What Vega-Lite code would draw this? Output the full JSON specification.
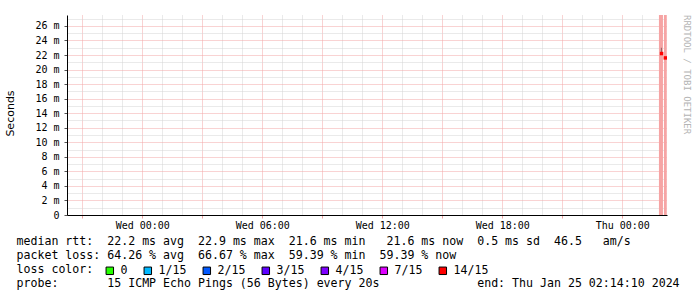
{
  "$schema": "https://vega.github.io/schema/vega-lite/v6.json",
  "width": 600,
  "height": 200,
  "autosize": {"type": "none"},
  "padding": {"left": 67, "top": 15, "right": 30, "bottom": 82},
  "background": "white",
  "title": {"text": "RRDTOOL / TOBI OETIKER", "orient": "right", "anchor": "start", "frame": "group", "offset": 3, "fontSize": 9, "font": "DejaVu Sans Mono", "color": "#b4b4b4", "fontWeight": "normal"},
  "config": {
    "view": {"stroke": null},
    "axis": {"domainColor": "black", "domainWidth": 1, "labelFont": "DejaVu Sans Mono", "labelFontSize": 10, "labelColor": "black"}
  },
  "datasets": {
    "bands": [
      {"t0": "2024-01-25T01:50:00", "t1": "2024-01-25T02:02:00"},
      {"t0": "2024-01-25T02:05:00", "t1": "2024-01-25T02:13:30"}
    ],
    "smoke": [
      {"t0": "2024-01-25T01:54:00", "t1": "2024-01-25T01:57:00", "lo": 22.1, "hi": 22.4},
      {"t0": "2024-01-25T01:56:00", "t1": "2024-01-25T01:57:30", "lo": 22.3, "hi": 23.0}
    ],
    "median": [
      {"t": "2024-01-25T01:58:00", "v": 22.2, "loss": "14/15"},
      {"t": "2024-01-25T02:09:00", "v": 21.6, "loss": "14/15"}
    ]
  },
  "layer": [
    {
      "data": {"name": "bands"},
      "mark": {"type": "rect", "color": "#f6a4a4", "opacity": 1},
      "encoding": {
        "x": {
          "field": "t0", "type": "temporal",
          "scale": {"domain": [{"year": 2024, "month": 1, "date": 23, "hours": 20, "minutes": 14, "seconds": 10}, {"year": 2024, "month": 1, "date": 25, "hours": 2, "minutes": 14, "seconds": 10}]},
          "axis": {
            "tickCount": 200,
            "values": [
              {"year": 2024, "month": 1, "date": 23, "hours": 21}, {"year": 2024, "month": 1, "date": 23, "hours": 22}, {"year": 2024, "month": 1, "date": 23, "hours": 23},
              {"year": 2024, "month": 1, "date": 24, "hours": 0}, {"year": 2024, "month": 1, "date": 24, "hours": 1}, {"year": 2024, "month": 1, "date": 24, "hours": 2},
              {"year": 2024, "month": 1, "date": 24, "hours": 3}, {"year": 2024, "month": 1, "date": 24, "hours": 4}, {"year": 2024, "month": 1, "date": 24, "hours": 5},
              {"year": 2024, "month": 1, "date": 24, "hours": 6}, {"year": 2024, "month": 1, "date": 24, "hours": 7}, {"year": 2024, "month": 1, "date": 24, "hours": 8},
              {"year": 2024, "month": 1, "date": 24, "hours": 9}, {"year": 2024, "month": 1, "date": 24, "hours": 10}, {"year": 2024, "month": 1, "date": 24, "hours": 11},
              {"year": 2024, "month": 1, "date": 24, "hours": 12}, {"year": 2024, "month": 1, "date": 24, "hours": 13}, {"year": 2024, "month": 1, "date": 24, "hours": 14},
              {"year": 2024, "month": 1, "date": 24, "hours": 15}, {"year": 2024, "month": 1, "date": 24, "hours": 16}, {"year": 2024, "month": 1, "date": 24, "hours": 17},
              {"year": 2024, "month": 1, "date": 24, "hours": 18}, {"year": 2024, "month": 1, "date": 24, "hours": 19}, {"year": 2024, "month": 1, "date": 24, "hours": 20},
              {"year": 2024, "month": 1, "date": 24, "hours": 21}, {"year": 2024, "month": 1, "date": 24, "hours": 22}, {"year": 2024, "month": 1, "date": 24, "hours": 23},
              {"year": 2024, "month": 1, "date": 25, "hours": 0}, {"year": 2024, "month": 1, "date": 25, "hours": 1}, {"year": 2024, "month": 1, "date": 25, "hours": 2}
            ],
            "labelExpr": "hours(datum.value) % 6 === 0 ? timeFormat(datum.value, '%a %H:%M') : ''",
            "labelOverlap": false,
            "labelBound": false,
            "labelFlush": false,
            "labelPadding": 2,
            "tickSize": 3,
            "tickColor": {"condition": {"test": "hours(datum.value) % 3 === 0", "value": "#f0a0a0"}, "value": "transparent"},
            "grid": true,
            "gridColor": {"condition": {"test": "hours(datum.value) % 3 === 0", "value": "#f2a6a6"}, "value": "#d4d4d4"},
            "gridDash": [1, 1],
            "title": ["median rtt:\u00a0\u00a022.2\u00a0ms\u00a0avg\u00a0\u00a022.9\u00a0ms\u00a0max\u00a0\u00a021.6\u00a0ms\u00a0min\u00a0\u00a0\u00a021.6\u00a0ms\u00a0now\u00a0\u00a00.5\u00a0ms\u00a0sd\u00a0\u00a046.5\u00a0\u00a0\u00a0am/s", "packet\u00a0loss:\u00a064.26\u00a0%\u00a0avg\u00a0\u00a066.67\u00a0%\u00a0max\u00a0\u00a059.39\u00a0%\u00a0min\u00a0\u00a059.39\u00a0%\u00a0now", "loss\u00a0color:", "probe:\u00a0\u00a0\u00a0\u00a0\u00a0\u00a0\u00a015\u00a0ICMP\u00a0Echo\u00a0Pings\u00a0(56\u00a0Bytes)\u00a0every\u00a020s\u00a0\u00a0\u00a0\u00a0\u00a0\u00a0\u00a0\u00a0\u00a0\u00a0\u00a0\u00a0\u00a0\u00a0end:\u00a0Thu\u00a0Jan\u00a025\u00a002:14:10\u00a02024"],
            "titleFont": "DejaVu Sans Mono",
            "titleFontSize": 11.6,
            "titleFontWeight": "normal",
            "titleColor": "black",
            "titleAnchor": "start",
            "titleAlign": "left",
            "titleBaseline": "top",
            "titleLineHeight": 14,
            "titleX": -51,
            "titleY": 20,
            "titleAngle": 0
          }
        },
        "x2": {"field": "t1"},
        "y": {
          "datum": 0, "type": "quantitative",
          "scale": {"domain": [0, 27.5], "nice": false, "zero": true},
          "axis": {
            "tickCount": 200,
            "values": [0,1,2,3,4,5,6,7,8,9,10,11,12,13,14,15,16,17,18,19,20,21,22,23,24,25,26,27],
            "labelExpr": "datum.value === 0 ? '0\u00a0\u00a0' : (datum.value % 2 === 0 ? datum.value + ' m' : '')",
            "labelOverlap": false,
            "labelBound": false,
            "labelFlush": false,
            "labelPadding": 5,
            "tickSize": 3,
            "tickColor": {"condition": {"test": "datum.value % 2 === 0", "value": "#555555"}, "value": "transparent"},
            "grid": true,
            "gridColor": {"condition": {"test": "datum.value % 2 === 0", "value": "#f2a6a6"}, "value": "#d4d4d4"},
            "gridDash": [1, 1],
            "title": "Seconds",
            "titleFont": "DejaVu Sans",
            "titleFontSize": 11,
            "titleFontWeight": "normal",
            "titleColor": "black",
            "titleAngle": -90,
            "titleAlign": "center",
            "titleBaseline": "middle",
            "titleX": -57,
            "titleY": 98
          }
        },
        "y2": {"datum": 27.5}
      }
    },
    {
      "data": {"name": "smoke"},
      "mark": {"type": "rect", "color": "#1a1a1a"},
      "encoding": {
        "x": {"field": "t0", "type": "temporal"},
        "x2": {"field": "t1"},
        "y": {"field": "lo", "type": "quantitative"},
        "y2": {"field": "hi"}
      }
    },
    {
      "data": {"name": "median"},
      "mark": {"type": "point", "shape": "square", "filled": true, "size": 12, "opacity": 1},
      "encoding": {
        "x": {"field": "t", "type": "temporal"},
        "y": {"field": "v", "type": "quantitative"},
        "fill": {
          "field": "loss", "type": "nominal",
          "scale": {"domain": ["0", "1/15", "2/15", "3/15", "4/15", "7/15", "14/15"], "range": ["#26ff00", "#00b8ff", "#0059ff", "#5e00ff", "#7e00ff", "#dd00ff", "#ff0000"]},
          "legend": {
            "title": null,
            "orient": "none",
            "legendX": 37,
            "legendY": 250,
            "direction": "horizontal",
            "columns": 7,
            "gridAlign": "none",
            "symbolType": "square",
            "symbolSize": 56,
            "symbolStrokeColor": "black",
            "symbolStrokeWidth": 1,
            "symbolOpacity": 1,
            "labelFont": "DejaVu Sans Mono",
            "labelFontSize": 11.6,
            "labelColor": "black",
            "labelOffset": 5,
            "columnPadding": 14,
            "padding": 0
          }
        }
      }
    }
  ]
}
